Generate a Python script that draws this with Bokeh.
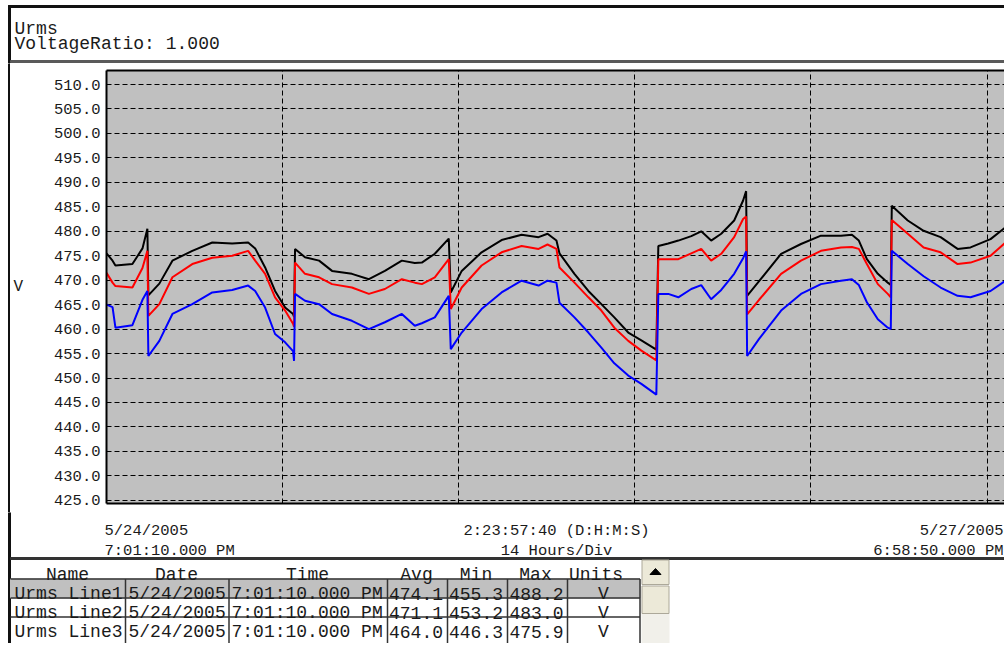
from bokeh.plotting import figure
from bokeh.layouts import row, column
from bokeh.models import Range1d, FixedTicker, PrintfTickFormatter, LinearAxis, ColumnDataSource
from bokeh.core.properties import value
from bokeh.embed import file_html
from bokeh.resources import INLINE

# ---------------- data ----------------
hours = [0.00, 0.48, 0.71, 2.06, 2.86, 3.25, 3.33, 4.20, 5.24, 6.82,
         8.41, 9.99, 11.26, 11.82, 12.61, 13.40, 14.20, 14.83, 14.91, 14.99,
         15.78, 16.90, 17.93, 19.51, 20.86, 22.13, 23.48, 24.51, 25.07, 26.10,
         27.21, 27.37, 28.24, 29.82, 31.41, 33.00, 34.35, 35.06, 35.77, 36.01,
         37.20, 38.31, 39.34, 40.37, 41.48, 42.52, 43.71, 43.87, 44.66, 45.46,
         46.49, 47.28, 48.07, 48.87, 49.90, 50.61, 50.85, 50.93, 51.88, 53.63,
         55.21, 56.80, 58.39, 59.26, 59.81, 60.45, 61.32, 62.11, 62.35, 62.43,
         63.70, 64.96, 66.31, 67.66, 68.69, 70.28, 71.47]

line1 = [475.5, 474.0, 473.0, 473.3, 476.5, 480.5, 466.9, 469.3, 474.0, 476.0,
         477.7, 477.5, 477.7, 476.5, 472.6, 467.8, 464.4, 463.1, 462.5, 476.4,
         474.7, 474.0, 471.9, 471.3, 470.2, 471.9, 474.0, 473.5, 473.6, 475.4,
         478.5, 467.5, 471.9, 475.7, 478.2, 479.3, 478.8, 479.5, 478.1, 475.5,
         471.3, 467.8, 465.1, 462.4, 459.3, 457.7, 455.8, 477.0, 477.5, 478.1,
         479.0, 480.0, 478.1, 479.5, 482.2, 486.3, 488.2, 466.8, 469.8, 475.4,
         477.4, 479.1, 479.1, 479.3, 478.1, 474.3, 471.3, 469.5, 469.0, 485.2,
         482.2, 480.1, 478.8, 476.4, 476.7, 478.4, 480.8]

line2 = [471.5, 469.5, 468.8, 468.5, 472.5, 476.0, 462.7, 465.1, 470.6, 473.3,
         474.6, 475.0, 476.0, 474.0, 471.3, 466.5, 463.8, 461.1, 460.5, 473.6,
         471.3, 470.6, 469.2, 468.5, 467.2, 468.2, 470.2, 469.5, 469.2, 470.6,
         474.3, 464.1, 468.5, 473.0, 475.7, 477.0, 476.4, 477.3, 476.4, 472.6,
         469.5, 466.5, 463.8, 460.3, 457.6, 455.6, 453.6, 474.3, 474.3, 474.3,
         475.5, 476.4, 474.0, 475.4, 478.8, 482.5, 483.0, 463.0, 466.0, 471.3,
         474.0, 476.0, 476.7, 476.8, 476.4, 473.3, 469.2, 467.2, 466.5, 482.3,
         479.5, 476.7, 475.7, 473.3, 473.6, 475.0, 477.7]

line3 = [465.0, 464.5, 460.3, 460.8, 466.0, 467.8, 454.5, 457.6, 463.1, 465.1,
         467.5, 468.0, 468.9, 467.8, 464.4, 459.0, 457.3, 455.5, 453.5, 467.2,
         465.8, 465.1, 463.1, 461.7, 460.0, 461.4, 463.1, 460.7, 461.2, 462.4,
         466.8, 455.9, 459.3, 464.1, 467.5, 469.9, 468.9, 469.9, 469.5, 465.4,
         462.4, 459.3, 456.2, 453.0, 450.5, 448.8, 446.6, 467.2, 467.2, 466.5,
         468.2, 469.0, 466.1, 468.0, 471.3, 474.5, 475.9, 454.5, 458.0, 463.8,
         467.2, 469.2, 469.9, 470.2, 469.0, 465.5, 462.0, 460.3, 460.0, 476.0,
         473.3, 470.8, 468.5, 466.8, 466.5, 467.8, 469.9]

y_ticks = [425.0, 430.0, 435.0, 440.0, 445.0, 450.0, 455.0, 460.0, 465.0,
           470.0, 475.0, 480.0, 485.0, 490.0, 495.0, 500.0, 505.0, 510.0]
grid_hours = [14, 28, 42, 56, 70]

title_lines = ["Urms", "VoltageRatio: 1.000"]
y_unit = "V"
start_labels = ["5/24/2005", "7:01:10.000 PM"]
span_labels = ["2:23:57:40 (D:H:M:S)", "14 Hours/Div"]
end_labels = ["5/27/2005", "6:58:50.000 PM"]

table_header = ["Name", "Date", "Time", "Avg", "Min", "Max", "Units"]
names = ["Urms Line1", "Urms Line2", "Urms Line3"]
dates = ["5/24/2005", "5/24/2005", "5/24/2005"]
times = ["7:01:10.000 PM", "7:01:10.000 PM", "7:01:10.000 PM"]
avgs = ["474.1", "471.1", "464.0"]
mins = ["455.3", "453.2", "446.3"]
maxs = ["488.2", "483.0", "475.9"]
units = ["V", "V", "V"]

# ---------------- styling ----------------
MONO = "Liberation Mono"
TXT = "#1a1a1a"
W = 1004
BORDER = "#111111"


def no_align(f):
    try:
        f.frame_align = False
    except Exception:
        pass
    return f


def deco(w, h):
    f = figure(width=w, height=h, x_range=Range1d(0, w), y_range=Range1d(h, 0),
               output_backend="svg", toolbar_location=None, min_border=0,
               x_axis_location=None, y_axis_location=None, outline_line_color=None,
               background_fill_color="white", border_fill_color="white")
    f.grid.visible = False
    return no_align(f)


# ---- header (page y 0..63) ----
hdr = deco(W, 63)
hdr.quad(left=8, right=W, top=5, bottom=7, color=BORDER)
hdr.quad(left=8, right=10, top=5, bottom=63, color=BORDER)
hdr.text(x=[14, 14], y=[28.3, 43.3], text=title_lines, text_font=value(MONO),
         text_font_size="18px", text_baseline="alphabetic", text_color=TXT)
hdr.quad(left=10, right=W, top=60, bottom=62, color="#5a5a5a")

# ---- left border strip beside the chart ----
strip = deco(10, 449)
strip.quad(left=8, right=10, top=0, bottom=449, color=BORDER)

# ---- main chart (page y 63..512, x 10..1004) ----
p = figure(width=W - 10, height=449, x_range=Range1d(0, 71.39), y_range=Range1d(424.35, 512.87),
           output_backend="svg", toolbar_location=None,
           min_border_left=94, min_border_right=0, min_border_top=7, min_border_bottom=9,
           background_fill_color="#c0c0c0", border_fill_color="white", outline_line_color=None)
no_align(p)

top_ax = LinearAxis(ticker=FixedTicker(ticks=[]))
p.add_layout(top_ax, "above")
for ax in p.xaxis:
    ax.ticker = FixedTicker(ticks=[])
    ax.axis_line_color = "black"
    ax.axis_line_width = 2
    ax.major_tick_out = 0
    ax.major_tick_in = 0
    ax.minor_tick_out = 0
    ax.minor_tick_in = 0
    ax.major_label_standoff = 0

ya = p.yaxis[0]
ya.ticker = FixedTicker(ticks=y_ticks)
ya.formatter = PrintfTickFormatter(format="%.1f")
ya.major_label_text_font = MONO
ya.major_label_text_font_size = "15.5px"
ya.major_label_text_color = TXT
ya.major_tick_out = 0
ya.major_tick_in = 0
ya.minor_tick_out = 0
ya.minor_tick_in = 0
ya.axis_line_color = "black"
ya.axis_line_width = 2
ya.major_label_standoff = 6
ya.axis_label = y_unit
ya.axis_label_text_font = MONO
ya.axis_label_text_font_size = "16px"
ya.axis_label_text_font_style = "normal"
ya.axis_label_text_color = TXT
ya.axis_label_standoff = 28
try:
    ya.axis_label_orientation = "horizontal"
except Exception:
    pass

p.xgrid.ticker = FixedTicker(ticks=grid_hours)
p.grid.grid_line_color = "black"
p.grid.grid_line_dash = "5 3"
p.grid.grid_line_width = 1

src = ColumnDataSource(dict(h=hours, l1=line1, l2=line2, l3=line3))
p.line("h", "l1", source=src, line_color="#000000", line_width=2)
p.line("h", "l2", source=src, line_color="#ff0000", line_width=2)
p.line("h", "l3", source=src, line_color="#0000ff", line_width=2)

# ---- bottom labels + table (page y 512..643) ----
BH = 131
bot = deco(W, BH)
bot.quad(left=8, right=10, top=0, bottom=BH, color=BORDER)
fnt = dict(text_font=value(MONO), text_baseline="alphabetic", text_color=TXT)
bot.text(x=[104, 104], y=[18, 38], text=start_labels, text_align="left", text_font_size="15.5px", **fnt)
bot.text(x=[556, 556], y=[18, 38], text=span_labels, text_align="center", text_font_size="15.5px", **fnt)
bot.text(x=[1003, 1003], y=[18, 38], text=end_labels, text_align="right", text_font_size="15.5px", **fnt)

col_sep = [125, 228.5, 387, 447, 507, 567]
tbl_right = 639.5
tbl_top = 46
row_tops = [66.5, 85.5, 104.5]
row_base = [81.5, 100.5, 119.5]
hdr_base = 62.5

bot.quad(left=10, right=tbl_right, top=row_tops[0], bottom=row_tops[1], color="#c0c0c0")
bot.quad(left=10, right=W, top=tbl_top - 1, bottom=tbl_top + 1, color="#333333")
bot.segment(x0=[10] * 3, y0=row_tops, x1=[tbl_right] * 3, y1=row_tops, line_color="#333333", line_width=1.5)
bot.segment(x0=col_sep + [tbl_right], y0=[row_tops[0]] * 7, x1=col_sep + [tbl_right], y1=[BH] * 7,
            line_color="#333333", line_width=1.5)

hdr_x = [67, 176, 307, 416, 475.5, 535, 595.5]
bot.text(x=hdr_x, y=[hdr_base] * 7, text=table_header, text_align="center", text_font_size="18px", **fnt)

bot.text(x=[14] * 3, y=row_base, text=names, text_align="left", text_font_size="18px", **fnt)
bot.text(x=[128] * 3, y=row_base, text=dates, text_align="left", text_font_size="18px", **fnt)
bot.text(x=[231] * 3, y=row_base, text=times, text_align="left", text_font_size="18px", **fnt)
bot.text(x=[388.5] * 3, y=row_base, text=avgs, text_align="left", text_font_size="18px", **fnt)
bot.text(x=[448.5] * 3, y=row_base, text=mins, text_align="left", text_font_size="18px", **fnt)
bot.text(x=[509] * 3, y=row_base, text=maxs, text_align="left", text_font_size="18px", **fnt)
bot.text(x=[603] * 3, y=row_base, text=units, text_align="center", text_font_size="18px", **fnt)

# scrollbar
bot.quad(left=641.5, right=668.5, top=101, bottom=BH, color="#f1f0ea")
bot.quad(left=641.5, right=668.5, top=47.5, bottom=72, fill_color="#ece9d8", line_color="#aca899", line_width=1)
bot.quad(left=641.5, right=668.5, top=73.5, bottom=101, fill_color="#ece9d8", line_color="#aca899", line_width=1)
bot.patch(x=[649.5, 660.5, 655], y=[62, 62, 56], color="black")

layout = column(hdr, row(strip, p), bot)
open("out.html", "w").write(file_html(layout, INLINE))
